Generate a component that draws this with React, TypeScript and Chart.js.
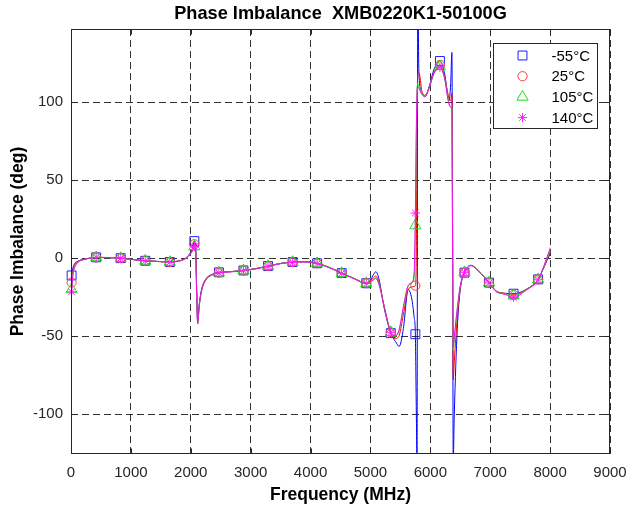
import React, { useEffect, useRef } from "react";
import { Chart, registerables } from "chart.js";

Chart.register(...registerables);

const FONT = "'Liberation Sans', Arial, Helvetica, sans-serif";
const AXIS_COLOR = "#262626";

const TITLE = "Phase Imbalance  XMB0220K1-50100G";
const X_LABEL = "Frequency (MHz)";
const Y_LABEL = "Phase Imbalance (deg)";

const SERIES_LABELS = ["-55°C", "25°C", "105°C", "140°C"];

const X_TICKS = [0, 1000, 2000, 3000, 4000, 5000, 6000, 7000, 8000, 9000];
const Y_TICKS = [-100, -50, 0, 50, 100];
const X_RANGE = [0, 9000];
const Y_RANGE = [-125.5, 147];

const FREQ_MHZ = [
  10, 30, 60, 120, 200, 300, 420, 620, 830, 1040,
  1240, 1450, 1650, 1800, 1900, 1980, 2030, 2060, 2080, 2100,
  2115, 2140, 2180, 2250, 2350, 2470, 2680, 2880, 3100, 3290,
  3500, 3700, 3900, 4110, 4320, 4520, 4730, 4930, 5000, 5050,
  5090, 5140, 5230, 5340, 5420, 5480, 5550, 5630, 5690, 5730,
  5750, 5765, 5778, 5790, 5810, 5860, 5910, 5980, 6060, 6160,
  6240, 6310, 6340, 6360, 6372, 6382, 6400, 6450, 6500, 6570,
  6680, 6800, 6900, 6980, 7100, 7250, 7390, 7600, 7800, 7900,
  8000,
];

const PHASE_M55 = [
  -11, -6.5, -3.5, -1.8, -0.7, 0, 0.6, 0.5, 0.1, -0.8,
  -1.6, -2.0, -2.4, -1.7, -0.3, 2.8, 6.5, 11, 9, -22,
  -40, -30, -20, -13.5, -10.5, -9.0, -8.5, -7.8, -6.5, -5.0,
  -3.3, -2.4, -2.2, -3.2, -6.0, -9.5, -13, -16, -14, -10.5,
  -8.6, -13, -32, -48, -53.5, -56.5, -45, -20, -26, -38,
  -48.7, -95, -130, 175, 118, 106, 104, 110, 121, 126.5,
  118, 101, 112, 132, 20, -130, -100, -45, -20, -9.2,
  -4.5, -8, -12, -15.6, -21, -22.5, -22.7, -20, -13.5, -5.5,
  3,
];

const PHASE_25 = [
  -15.5, -8.5, -4.5, -2, -0.8, 0, 0.6, 0.5, 0.1, -0.8,
  -1.6, -2.0, -2.4, -1.7, -0.4, 2.5, 5.8, 9, 7, -24,
  -41.5, -31, -20.5, -13.5, -10.5, -9.2, -8.5, -7.8, -6.5, -5.0,
  -3.3, -2.4, -2.2, -3.2, -6.0, -9.5, -13, -16, -14.5, -12.5,
  -11.5, -15, -31, -47.5, -51.5, -49.5, -36, -20, -18.5, -18,
  -17.5, 0, 80, 118, 119, 107, 104.5, 109.5, 119, 124,
  116, 103, 101, 106, 10, -78, -66, -38, -19, -9.2,
  -4.5, -8, -12, -15.6, -21, -22.5, -23.5, -20, -13.5, -5.3,
  4,
];

const PHASE_105 = [
  -20, -10.5, -5.5, -2.3, -0.9, -0.1, 0.5, 0.4, 0, -0.9,
  -1.7, -2.1, -2.5, -1.8, -0.5, 2.2, 5.0, 7.5, 5.5, -25,
  -42, -31, -21, -14, -10.8, -9.3, -8.6, -7.9, -6.6, -5.1,
  -3.4, -2.5, -2.3, -3.3, -6.1, -9.6, -13.1, -16.1, -15, -13.5,
  -12.5, -16, -31, -47.5, -50, -46.5, -32, -18, -16, -12,
  21, 75, 108, 112, 110, 105.5, 104, 109.5, 118.5, 123,
  115, 100, 97, 96, 0, -59, -52, -33, -18, -9,
  -4.6, -8.1, -12.1, -15.7, -21.2, -22.8, -24, -20.2, -13.6, -5,
  5,
];

const PHASE_140 = [
  -21.5, -11.5, -6, -2.5, -1, -0.1, 0.5, 0.4, 0, -0.9,
  -1.7, -2.1, -2.5, -1.8, -0.5, 2.0, 4.8, 7.5, 5.5, -25,
  -42, -31, -21, -14, -10.8, -9.4, -8.7, -8.0, -6.7, -5.2,
  -3.5, -2.6, -2.4, -3.4, -6.2, -9.7, -13.2, -16.2, -15, -14,
  -13, -16.5, -31, -47.5, -49.5, -45.5, -31, -17.5, -15.5, -9,
  29, 80, 107, 110, 109, 105, 103.5, 109, 118.5, 122.5,
  115, 99, 97, 95, 0, -57, -50, -32, -17.5, -9,
  -4.7, -8.2, -12.2, -15.8, -21.4, -23.2, -25, -20.5, -13.8, -4.5,
  6.5,
];

const MARKER_FREQ_MHZ = [
  10, 420, 830, 1240, 1650, 2060, 2470, 2880, 3290, 3700,
  4110, 4520, 4930, 5340, 5750, 6160, 6570, 6980, 7390, 7800,
];

const SERIES_VALUES = [PHASE_M55, PHASE_25, PHASE_105, PHASE_140];

const STYLES = [
  { line: "rgb(0,0,255)", marker: "rgb(30,30,255)", shape: "rect", r: 6.3, order: 4 },
  { line: "rgb(255,0,0)", marker: "rgb(255,60,60)", shape: "circle", r: 4.6, order: 3 },
  { line: "rgb(0,255,0)", marker: "rgb(20,230,20)", shape: "triangle", r: 6.5, order: 2 },
  { line: "rgb(255,0,255)", marker: "rgb(255,30,255)", shape: "star", r: 4.6, order: 1 },
];

const MARKER_SET = new Set(MARKER_FREQ_MHZ);

function drawMarker(ctx: CanvasRenderingContext2D, shape: string, x: number, y: number, r: number, color: string) {
  ctx.save();
  ctx.strokeStyle = color;
  ctx.lineWidth = 1;
  ctx.beginPath();
  if (shape === "rect") {
    const s = r * Math.SQRT1_2;
    ctx.rect(x - s, y - s, 2 * s, 2 * s);
  } else if (shape === "circle") {
    ctx.arc(x, y, r, 0, Math.PI * 2);
  } else if (shape === "triangle") {
    for (let i = 0; i < 3; i++) {
      const a = (i * 2 * Math.PI) / 3;
      const px = x + Math.sin(a) * r;
      const py = y - Math.cos(a) * r;
      if (i === 0) ctx.moveTo(px, py);
      else ctx.lineTo(px, py);
    }
    ctx.closePath();
  } else {
    for (let i = 0; i < 4; i++) {
      const a = (i * Math.PI) / 4;
      ctx.moveTo(x - Math.cos(a) * r, y - Math.sin(a) * r);
      ctx.lineTo(x + Math.cos(a) * r, y + Math.sin(a) * r);
    }
  }
  ctx.stroke();
  ctx.restore();
}

const framePlugin = {
  id: "frameAndTicks",
  afterDatasetsDraw(chart: any) {
    const { ctx, chartArea, scales } = chart;
    const { left, right, top, bottom } = chartArea;
    const L = Math.round(left) + 0.5;
    const R = Math.round(right) - 0.5;
    const T = Math.round(top) + 0.5;
    const B = Math.round(bottom) - 0.5;
    const tl = 5;
    ctx.save();
    ctx.strokeStyle = AXIS_COLOR;
    ctx.lineWidth = 1;
    ctx.setLineDash([]);
    ctx.beginPath();
    X_TICKS.forEach((v) => {
      const px = Math.round(scales.x.getPixelForValue(v)) + 0.5;
      ctx.moveTo(px, B);
      ctx.lineTo(px, B - tl);
      ctx.moveTo(px, T);
      ctx.lineTo(px, T + tl);
    });
    Y_TICKS.forEach((v) => {
      const py = Math.round(scales.y.getPixelForValue(v)) + 0.5;
      ctx.moveTo(L, py);
      ctx.lineTo(L + tl, py);
      ctx.moveTo(R, py);
      ctx.lineTo(R - tl, py);
    });
    ctx.stroke();
    ctx.strokeRect(L, T, R - L, B - T);
    ctx.restore();
  },
  afterDraw(chart: any) {
    const { ctx, chartArea } = chart;
    const w = 104;
    const h = 85;
    const x0 = Math.round(chartArea.right - 13 - w) + 0.5;
    const y0 = Math.round(chartArea.top + 14) + 0.5;
    ctx.save();
    ctx.fillStyle = "#ffffff";
    ctx.fillRect(x0, y0, w, h);
    ctx.strokeStyle = AXIS_COLOR;
    ctx.lineWidth = 1;
    ctx.strokeRect(x0, y0, w, h);
    ctx.font = `15px ${FONT}`;
    ctx.fillStyle = "#000000";
    ctx.textBaseline = "middle";
    ctx.textAlign = "left";
    SERIES_LABELS.forEach((label, i) => {
      const cy = y0 + 12 + i * 20.7;
      const st = STYLES[i];
      drawMarker(ctx, st.shape, x0 + 29, cy, st.r, st.marker);
      ctx.fillText(label, x0 + 58, cy + 1);
    });
    ctx.restore();
  },
};

export default function App() {
  const canvasRef = useRef<HTMLCanvasElement | null>(null);

  useEffect(() => {
    const canvas = canvasRef.current;
    if (!canvas) return;

    const datasets = SERIES_VALUES.map((vals, i) => {
      const st = STYLES[i];
      return {
        label: SERIES_LABELS[i],
        data: FREQ_MHZ.map((f, j) => ({ x: f, y: vals[j] })),
        borderColor: st.line,
        borderWidth: 1,
        backgroundColor: "rgba(0,0,0,0)",
        fill: false,
        cubicInterpolationMode: "monotone" as const,
        tension: 0.4,
        order: st.order,
        clip: { left: 10, top: 0, right: 0, bottom: 0 },
        pointStyle: st.shape,
        pointRadius: (c: any) => (c.raw && MARKER_SET.has(c.raw.x) ? st.r : 0),
        pointHoverRadius: 0,
        pointBorderColor: st.marker,
        pointBackgroundColor: "rgba(0,0,0,0)",
        pointBorderWidth: 1,
      };
    });

    const tickFont = { family: FONT, size: 15 };
    const labelFont = { family: FONT, size: 17.5, weight: "bold" as const, lineHeight: 1.2 };
    const titleFont = { family: FONT, size: 18.2, weight: "bold" as const, lineHeight: 1.2 };

    const chart = new Chart(canvas, {
      type: "line",
      data: { datasets },
      plugins: [framePlugin],
      options: {
        animation: false,
        responsive: false,
        devicePixelRatio: 1,
        events: [],
        layout: { padding: { left: 0, right: 19, top: 0, bottom: 0 } },
        plugins: {
          legend: { display: false },
          tooltip: { enabled: false },
          title: {
            display: true,
            fullSize: false,
            text: TITLE,
            color: "#000000",
            font: titleFont,
            padding: { top: 3.2, bottom: 4 },
          },
        },
        scales: {
          x: {
            type: "linear",
            min: X_RANGE[0],
            max: X_RANGE[1],
            afterBuildTicks: (s: any) => {
              s.ticks = X_TICKS.map((v) => ({ value: v }));
            },
            afterFit: (s: any) => {
              s.height = 56;
              s.paddingLeft = 0;
              s.paddingRight = 0;
            },
            ticks: {
              font: tickFont,
              color: AXIS_COLOR,
              padding: 10,
              maxRotation: 0,
              autoSkip: false,
              callback: (v: any) => String(v),
            },
            grid: { color: "rgba(0,0,0,0.8)", lineWidth: 1, drawTicks: false },
            border: { display: false, dash: [7, 4] },
            title: {
              display: true,
              text: X_LABEL,
              color: "#000000",
              font: labelFont,
              padding: { top: 0, bottom: 4.5 },
            },
          },
          y: {
            type: "linear",
            min: Y_RANGE[0],
            max: Y_RANGE[1],
            afterBuildTicks: (s: any) => {
              s.ticks = Y_TICKS.map((v) => ({ value: v }));
            },
            afterFit: (s: any) => {
              s.width = 71;
              s.paddingTop = 0;
              s.paddingBottom = 0;
            },
            ticks: {
              font: tickFont,
              color: AXIS_COLOR,
              padding: 8,
              autoSkip: false,
              callback: (v: any) => String(v),
            },
            grid: { color: "rgba(0,0,0,0.8)", lineWidth: 1, drawTicks: false },
            border: { display: false, dash: [7, 4] },
            title: {
              display: true,
              text: Y_LABEL,
              color: "#000000",
              font: labelFont,
              padding: { top: 7.5, bottom: 0 },
            },
          },
        },
      },
    } as any);

    return () => {
      chart.destroy();
    };
  }, []);

  return (
    <div style={{ position: "absolute", left: 0, top: 0, width: 629, height: 510, background: "#ffffff" }}>
      <canvas ref={canvasRef} width={629} height={510} style={{ display: "block" }} />
    </div>
  );
}
